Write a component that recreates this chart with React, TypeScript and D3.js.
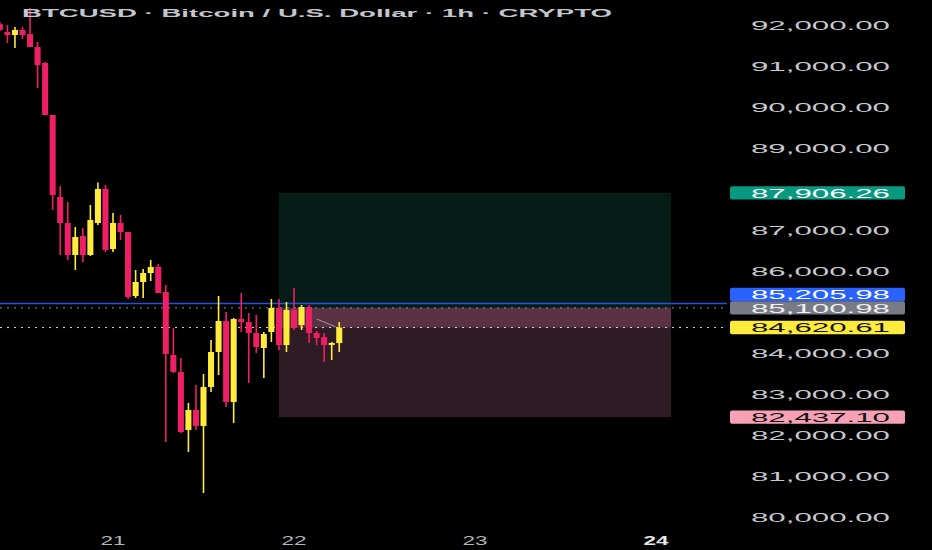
import * as d3 from 'd3'

const W = 932
const H = 550

// hourly candles, first one is 20 Nov 09:00 UTC
const firstHour = Date.UTC(2025, 10, 20, 9)
const opens = [92020, 91829, 91756, 91878, 91780, 91463, 91073, 89805, 87805, 87171, 86390, 86854, 86390, 87171, 88000, 86537, 87171, 86951, 85390, 85732, 85951, 86098, 85488, 83951, 83537, 82122, 82610, 82220, 83171, 84024, 84780, 82805, 84829, 84756, 84488, 84122, 84512, 85098, 84195, 85049, 84683, 85122, 84488, 84390, 84195, 84244]
const highs = [92080, 92000, 91951, 91951, 92415, 91585, 91098, 89805, 88073, 87683, 87073, 87049, 87610, 88160, 88098, 87415, 87366, 86951, 86024, 86049, 86268, 86171, 85659, 84610, 83878, 82780, 83220, 83488, 84317, 85390, 85000, 84854, 85463, 84976, 84927, 84512, 85317, 85317, 85244, 85585, 85171, 85171, 84537, 84488, 84268, 84756]
const lows = [91850, 91561, 91439, 91659, 91463, 90463, 89805, 87488, 86390, 86268, 86024, 86220, 86366, 87122, 86463, 86463, 86756, 85317, 85341, 85341, 85756, 85463, 81829, 83512, 82049, 81585, 82122, 80585, 83049, 83463, 82683, 82293, 84512, 83268, 84000, 83390, 84268, 84073, 84024, 84561, 84561, 84244, 84195, 83780, 83829, 84024]
const closes = [91880, 91756, 91878, 91756, 91463, 91024, 89805, 87854, 87171, 86390, 86829, 86390, 87244, 88000, 86512, 87171, 86951, 85366, 85732, 85951, 86098, 85463, 83976, 83537, 82073, 82610, 82220, 83171, 84024, 84780, 82805, 84829, 84756, 84488, 84146, 84463, 85098, 84195, 85049, 84610, 85122, 84488, 84366, 84195, 84244, 84620.61]

const priceTicks = [80000, 81000, 82000, 83000, 84000, 85000, 86000, 87000, 88000, 89000, 90000, 91000, 92000]
const dayTicks = [21, 22, 23, 24]

const targetPrice = 87906.26
const linePrice = 85205.98
const entryPrice = 85100.98
const lastPrice = 84620.61
const stopPrice = 82437.1
const zoneStart = Date.UTC(2025, 10, 21, 22)
const zoneEnd = Date.UTC(2025, 10, 24, 2)
const pathLine: [number, number][] = [
  [Date.UTC(2025, 10, 22, 3), 84829],
  [Date.UTC(2025, 10, 22, 5, 30), 84640],
]

const title = 'BTCUSD · Bitcoin / U.S. Dollar · 1h · CRYPTO'
const fmt = d3.format(',.2f')

const RED = '#ef1f66'
const YELLOW = '#ffeb3b'

export default function App() {
  const x = d3
    .scaleUtc()
    .domain([Date.UTC(2025, 10, 21), Date.UTC(2025, 10, 24)])
    .range([113, 656])
  const y = d3.scaleLinear().domain([80000, 92000]).range([517, 25])
  const hour = x(firstHour + 3600e3) - x(firstHour)
  const bodyW = hour * 0.8
  const plotRight = 727

  const candles = opens.map((o, i) => ({
    t: firstHour + i * 3600e3,
    o,
    h: highs[i],
    l: lows[i],
    c: closes[i],
  }))

  const badgeH = 13.4
  const entryY = y(entryPrice)
  const lineY = Math.min(y(linePrice), entryY - badgeH)
  const badges = [
    { v: targetPrice, cy: y(targetPrice), bg: '#089981', fg: '#ffffff' },
    { v: linePrice, cy: lineY, bg: '#2962ff', fg: '#ffffff' },
    { v: entryPrice, cy: entryY, bg: '#787b86', fg: '#f0f0f0' },
    { v: lastPrice, cy: y(lastPrice), bg: '#ffeb3b', fg: '#131313' },
    { v: stopPrice, cy: y(stopPrice), bg: '#f7a1b7', fg: '#131313' },
  ]
  // the scale labels that sit under a badge are covered by it
  const visibleTicks = priceTicks.filter(p =>
    badges.every(b => Math.abs(y(p) - b.cy) > badgeH - 1)
  )

  const font = "'Liberation Sans', Arial, sans-serif"
  const line = d3
    .line<[number, number]>()
    .x(d => x(d[0]))
    .y(d => y(d[1]))

  return (
    <svg
      width={W}
      height={H}
      style={{ position: 'absolute', left: 0, top: 0, display: 'block' }}
    >
      <rect width={W} height={H} fill="#000" />

      {/* position zones */}
      <rect
        x={x(zoneStart)}
        y={y(targetPrice)}
        width={x(zoneEnd) - x(zoneStart)}
        height={y(entryPrice) - y(targetPrice)}
        fill="#061c17"
      />
      <rect
        x={x(zoneStart)}
        y={y(entryPrice)}
        width={x(zoneEnd) - x(zoneStart)}
        height={y(stopPrice) - y(entryPrice)}
        fill="#2e1b23"
      />
      <rect
        x={x(zoneStart)}
        y={y(entryPrice)}
        width={x(zoneEnd) - x(zoneStart)}
        height={y(lastPrice) - y(entryPrice)}
        fill="#5a3244"
      />

      {/* horizontal price lines */}
      <line x1={0} x2={plotRight} y1={y(linePrice)} y2={y(linePrice)} stroke="#2962ff" strokeOpacity={0.85} strokeWidth={1.5} />
      <line x1={0} x2={plotRight} y1={entryY} y2={entryY} stroke="#8a8d96" strokeWidth={1} strokeDasharray="2 5" />
      <line x1={0} x2={plotRight} y1={y(lastPrice)} y2={y(lastPrice)} stroke="#d8d8d8" strokeWidth={1} strokeDasharray="2 5" />

      <path d={line(pathLine) ?? ''} fill="none" stroke="#9a9a9a" strokeWidth={1} />

      {/* candles */}
      {candles.map(d => {
        const cx = x(d.t)
        const col = d.c >= d.o ? YELLOW : RED
        const top = y(Math.max(d.o, d.c))
        const bot = y(Math.min(d.o, d.c))
        return (
          <g key={d.t}>
            <line x1={cx} x2={cx} y1={y(d.h)} y2={y(d.l)} stroke={col} strokeWidth={1.6} />
            <rect x={cx - bodyW / 2} y={top} width={bodyW} height={Math.max(1.2, bot - top)} fill={col} />
          </g>
        )
      })}

      {/* title */}
      <text
        x={22}
        y={17}
        fontFamily={font}
        fontSize={11.5}
        fontWeight={600}
        fill="#c4c6cc"
        textLength={590}
        lengthAdjust="spacingAndGlyphs"
      >
        {title}
      </text>

      {/* price axis */}
      {visibleTicks.map(p => (
        <text
          key={p}
          x={890}
          y={y(p)}
          dy="0.36em"
          textAnchor="end"
          fontFamily={font}
          fontSize={13}
          fill="#c8c9ce"
          textLength={139}
          lengthAdjust="spacingAndGlyphs"
        >
          {fmt(p)}
        </text>
      ))}

      {badges.map(b => (
        <g key={b.v}>
          <rect x={730} y={b.cy - badgeH / 2} width={175} height={badgeH} rx={2} fill={b.bg} />
          <text
            x={890}
            y={b.cy}
            dy="0.36em"
            textAnchor="end"
            fontFamily={font}
            fontSize={13}
            fill={b.fg}
            textLength={139}
            lengthAdjust="spacingAndGlyphs"
          >
            {fmt(b.v)}
          </text>
        </g>
      ))}

      {/* time axis */}
      {dayTicks.map(d => (
        <text
          key={d}
          x={x(Date.UTC(2025, 10, d))}
          y={545}
          textAnchor="middle"
          fontFamily={font}
          fontSize={13}
          fontWeight={d === 24 ? 700 : 400}
          fill={d === 24 ? '#e8e8e8' : '#b4b6bc'}
          textLength={25}
          lengthAdjust="spacingAndGlyphs"
        >
          {d}
        </text>
      ))}
    </svg>
  )
}
